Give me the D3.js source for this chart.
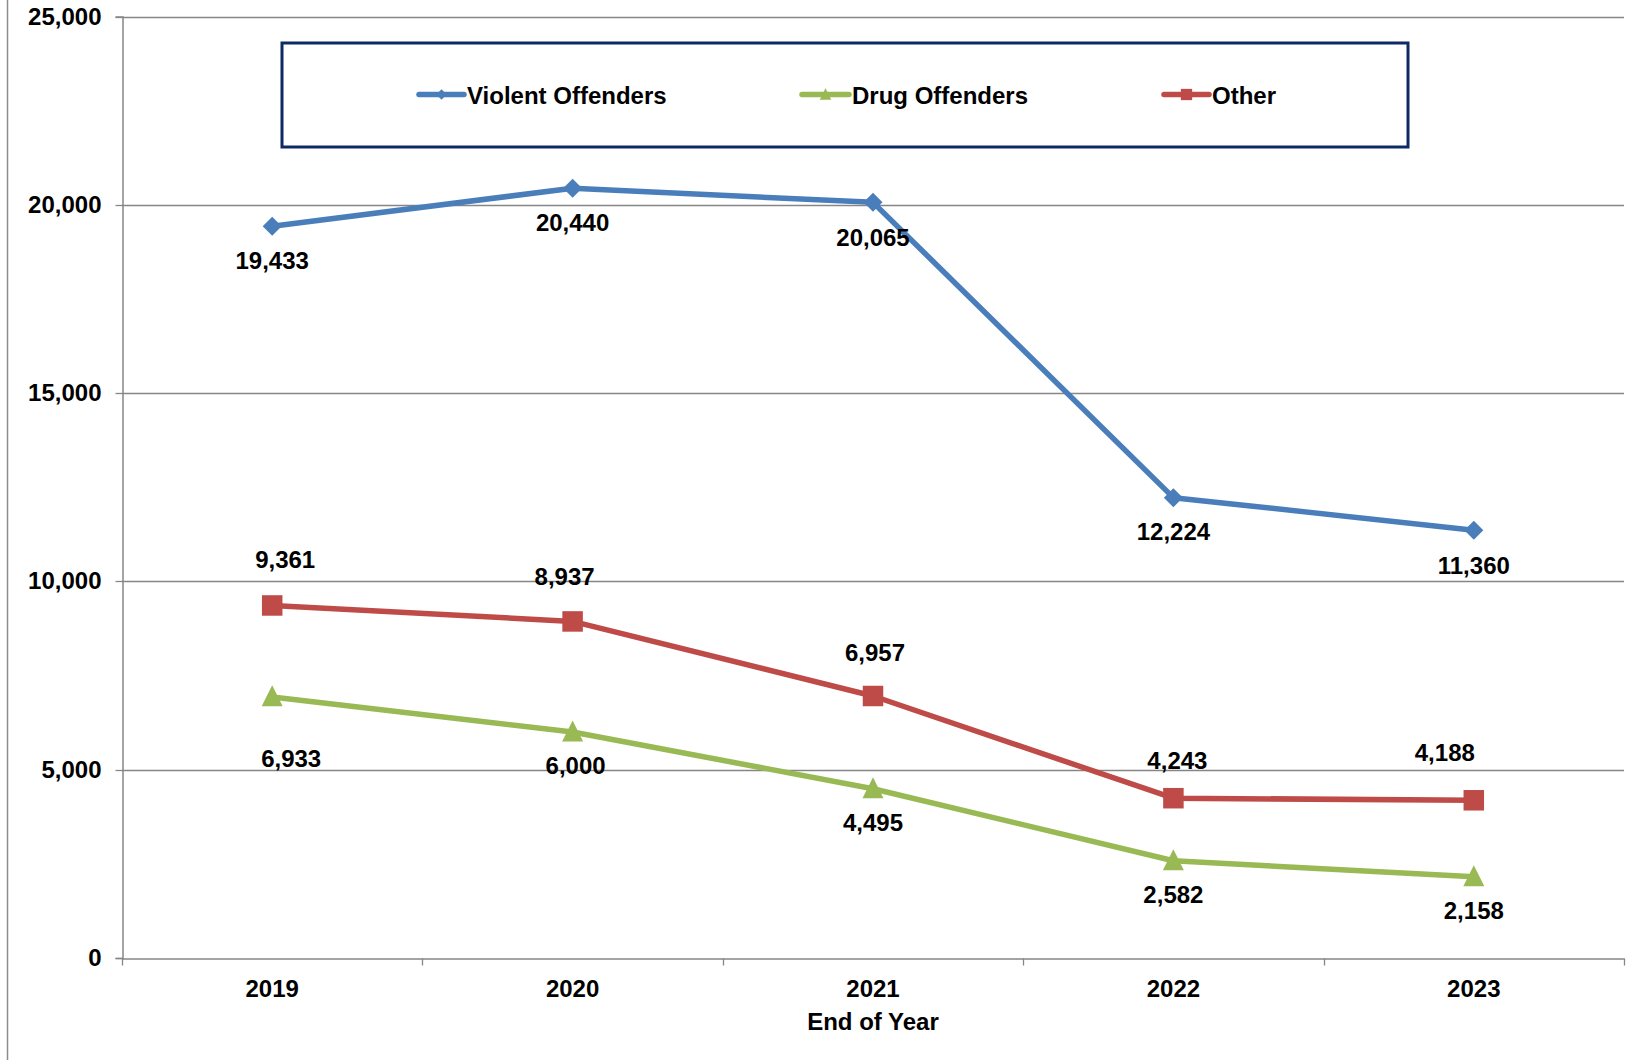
<!DOCTYPE html>
<html>
<head>
<meta charset="utf-8">
<script src="https://cdn.jsdelivr.net/npm/d3@7"></script>
<style>
  html, body { margin: 0; padding: 0; background: #fff; }
  svg { display: block; }
  text { font-family: "Liberation Sans", Arial, sans-serif; font-weight: bold; fill: #000; }
</style>
</head>
<body>
<svg id="chart" width="1627" height="1060"></svg>
<script>
// ---- data ----
const years = ["2019", "2020", "2021", "2022", "2023"];
const violentOffenders = [19433, 20440, 20065, 12224, 11360];
const drugOffenders = [6933, 6000, 4495, 2582, 2158];
const otherOffenders = [9361, 8937, 6957, 4243, 4188];
const seriesNames = ["Violent Offenders", "Drug Offenders", "Other"];
const yTicks = [0, 5000, 10000, 15000, 20000, 25000];
const xAxisTitle = "End of Year";

// ---- layout / style (kept separate from data) ----
const W = 1627, H = 1060;
const plot = { left: 122, right: 1624, top: 16.5, bottom: 958 };
const fontSize = 24;
const textShift = 3; // vertical nudge for middle-aligned text
const styles = [
  { color: "#4A7EBB", marker: "diamond" },
  { color: "#98B954", marker: "triangle" },
  { color: "#BE4B48", marker: "square" }
];
// label offsets (px) for each series / point, as placed in the original
const labelDx = [
  [0, 0, 0, 0, 0],
  [19, 3, 0, 0, 0],
  [13, -8, 2, 4, -29]
];
const labelDy = [
  [34, 33, 34, 33, 34],
  [61, 33, 33, 33, 33],
  [-47, -46, -44, -39, -49]
];

const svg = d3.select("#chart");

const x = d3.scaleBand().domain(years).range([plot.left, plot.right]).paddingInner(0).paddingOuter(0);
const y = d3.scaleLinear().domain([0, 25000]).range([plot.bottom, plot.top]);
const fmt = d3.format(",");

// outer chart border (left edge visible)
svg.append("line").attr("x1", 7.5).attr("x2", 7.5).attr("y1", 0).attr("y2", H)
  .attr("stroke", "#8c8c8c").attr("stroke-width", 1.5);

// gridlines
svg.append("g").selectAll("line").data(yTicks.filter(d => d > 0)).join("line")
  .attr("x1", plot.left).attr("x2", plot.right)
  .attr("y1", d => Math.round(y(d)) + 0.5).attr("y2", d => Math.round(y(d)) + 0.5)
  .attr("stroke", "#868686").attr("stroke-width", 1.3);

// y axis
const yAxis = d3.axisLeft(y).tickValues(yTicks).tickFormat(fmt).tickSize(7).tickPadding(14);
const gy = svg.append("g").attr("transform", `translate(${plot.left + 0.5},0)`).call(yAxis);
gy.select(".domain").attr("stroke", "#868686").attr("stroke-width", 1.5);
gy.selectAll(".tick line").attr("stroke", "#868686").attr("stroke-width", 1.3);
gy.selectAll(".tick text").attr("font-size", fontSize).attr("font-family", null).attr("fill", "#000");
gy.selectAll(".tick").attr("transform", d => `translate(0,${Math.round(y(d)) + 0.5})`);

// x axis
const xAxis = d3.axisBottom(x).tickSize(0).tickPadding(21);
const gx = svg.append("g").attr("transform", `translate(0,${Math.round(plot.bottom) + 0.5})`).call(xAxis);
gx.select(".domain").attr("stroke", "#868686").attr("stroke-width", 1.5);
gx.selectAll(".tick text").attr("font-size", fontSize).attr("font-family", null).attr("fill", "#000")
  .attr("dy", "0.71em");
// boundary tick marks between categories
const bounds = years.map(d => x(d)).concat([x(years[years.length - 1]) + x.bandwidth()]);
gx.append("g").selectAll("line").data(bounds).join("line")
  .attr("x1", d => Math.round(d) + 0.5).attr("x2", d => Math.round(d) + 0.5)
  .attr("y1", 0).attr("y2", 7)
  .attr("stroke", "#868686").attr("stroke-width", 1.3);

// x axis title
svg.append("text").attr("x", (plot.left + plot.right) / 2).attr("y", 1021 + textShift)
  .attr("text-anchor", "middle").attr("dominant-baseline", "middle")
  .attr("font-size", fontSize).text(xAxisTitle);

// markers
function drawMarker(g, type, cx, cy, color, scale = 1) {
  if (type === "diamond") {
    const r = 9.5 * scale;
    g.append("path").attr("d", `M${cx},${cy - r}L${cx + r},${cy}L${cx},${cy + r}L${cx - r},${cy}Z`).attr("fill", color);
  } else if (type === "triangle") {
    const s = 21 * scale;
    g.append("path").attr("d", `M${cx},${cy - s * 0.55}L${cx + s / 2},${cy + s * 0.45}L${cx - s / 2},${cy + s * 0.45}Z`).attr("fill", color);
  } else {
    const s = 20.5 * scale;
    g.append("rect").attr("x", cx - s / 2).attr("y", cy - s / 2).attr("width", s).attr("height", s).attr("fill", color);
  }
}

const allSeries = [violentOffenders, drugOffenders, otherOffenders];
const cx = d => x(d) + x.bandwidth() / 2;
const line = d3.line().x((d, i) => cx(years[i])).y(d => y(d));

const seriesG = svg.append("g");
allSeries.forEach((vals, s) => {
  const g = seriesG.append("g");
  g.append("path").datum(vals).attr("d", line)
    .attr("fill", "none").attr("stroke", styles[s].color).attr("stroke-width", 5.5)
    .attr("stroke-linejoin", "round");
  vals.forEach((v, i) => drawMarker(g, styles[s].marker, cx(years[i]), y(v), styles[s].color));
});

// data labels
const labelG = svg.append("g");
allSeries.forEach((vals, s) => {
  labelG.append("g").selectAll("text").data(vals).join("text")
    .attr("x", (d, i) => cx(years[i]) + labelDx[s][i])
    .attr("y", (d, i) => y(d) + labelDy[s][i] + textShift)
    .attr("text-anchor", "middle").attr("dominant-baseline", "middle")
    .attr("font-size", fontSize)
    .text(d => fmt(d));
});

// legend
const legend = { x: 282, y: 43, w: 1126, h: 104 };
svg.append("rect").attr("x", legend.x).attr("y", legend.y).attr("width", legend.w).attr("height", legend.h)
  .attr("fill", "#fff").attr("stroke", "#0E2A66").attr("stroke-width", 3);
const legendItems = [
  { x1: 419, x2: 464 },
  { x1: 802, x2: 849 },
  { x1: 1164, x2: 1209 }
];
const legendY = 94.5;
seriesNames.forEach((name, s) => {
  const it = legendItems[s];
  const g = svg.append("g");
  g.append("line").attr("x1", it.x1).attr("x2", it.x2).attr("y1", legendY).attr("y2", legendY)
    .attr("stroke", styles[s].color).attr("stroke-width", 5.5).attr("stroke-linecap", "round");
  drawMarker(g, styles[s].marker, (it.x1 + it.x2) / 2, legendY, styles[s].color, 0.55);
  g.append("text").attr("x", it.x2 + 3).attr("y", legendY + textShift).attr("dominant-baseline", "middle")
    .attr("font-size", fontSize).text(name);
});
</script>
</body>
</html>
